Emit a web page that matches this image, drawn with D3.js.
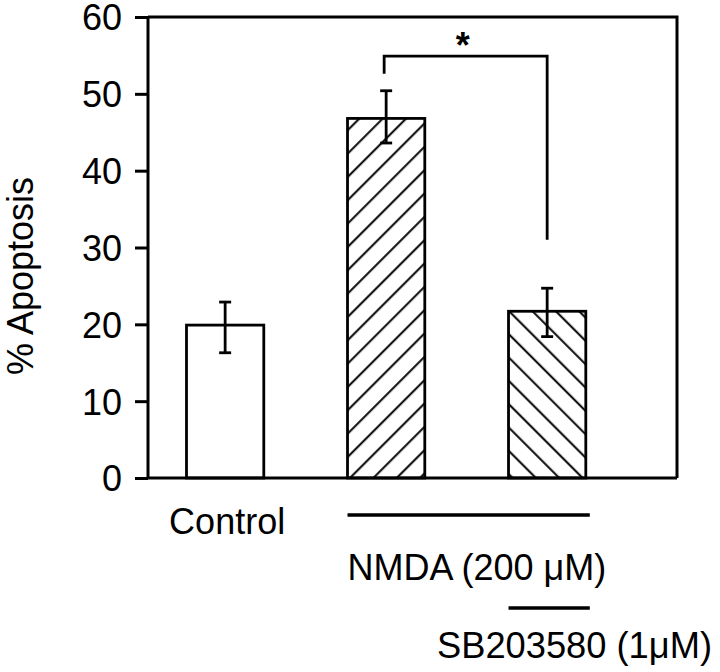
<!DOCTYPE html>
<html>
<head>
<meta charset="utf-8">
<script src="https://cdn.jsdelivr.net/npm/d3@7"></script>
<style>
  html, body { margin: 0; padding: 0; background: #fff; }
  svg text { font-family: "Liberation Sans", Arial, Helvetica, sans-serif; fill: #000; }
</style>
</head>
<body>
<svg id="chart" width="720" height="672"></svg>
<script>
// ---- data ----
const categories = ["Control", "NMDA", "NMDA+SB203580"];
const values = [19.9, 46.8, 21.7];
const errUpper = [22.9, 50.4, 24.7];
const errLower = [16.3, 43.6, 18.4];
const hatches = ["none", "forward", "back"];
const yTicks = [0, 10, 20, 30, 40, 50, 60];
const yTitle = "% Apoptosis";
const conditionLabels = ["Control", "NMDA (200 \u03BCM)", "SB203580 (1\u03BCM)"];
const sigLabel = "*";
const sigBracket = { from: "NMDA", to: "NMDA+SB203580", level: 54.9, leftEnd: 52.6, rightEnd: 31.0 };

// ---- layout ----
const svg = d3.select("#chart");
const plot = { left: 148, right: 677, top: 17, bottom: 478 };

const y = d3.scaleLinear().domain([0, 60]).range([plot.bottom, plot.top]);
const x = d3.scaleBand().domain(categories).range([186.5, 585.8]).paddingInner(0.52).paddingOuter(0);
const bw = x.bandwidth();

// patterns
const defs = svg.append("defs");
function hatchPattern(id, angle) {
  const p = defs.append("pattern")
    .attr("id", id).attr("patternUnits", "userSpaceOnUse")
    .attr("width", 16.5).attr("height", 16.5)
    .attr("patternTransform", `rotate(${angle})`);
  p.append("rect").attr("width", 16.5).attr("height", 16.5).attr("fill", "#fff");
  p.append("line").attr("x1", 8).attr("y1", -2).attr("x2", 8).attr("y2", 18.5)
    .attr("stroke", "#000").attr("stroke-width", 2);
}
hatchPattern("hatch-forward", 45);
hatchPattern("hatch-back", -45);

// bars
svg.append("g").selectAll("rect").data(categories).join("rect")
  .attr("x", d => x(d))
  .attr("y", (d, i) => y(values[i]))
  .attr("width", bw)
  .attr("height", (d, i) => y(0) - y(values[i]))
  .attr("fill", (d, i) => hatches[i] === "none" ? "#fff" : `url(#hatch-${hatches[i]})`)
  .attr("stroke", "#000").attr("stroke-width", 2.8);

// error bars
const eg = svg.append("g").attr("stroke", "#000").attr("stroke-width", 2.8).attr("fill", "none");
categories.forEach((c, i) => {
  const cx = x(c) + bw / 2;
  eg.append("line").attr("x1", cx).attr("x2", cx).attr("y1", y(errUpper[i])).attr("y2", y(errLower[i]));
  eg.append("line").attr("x1", cx - 6).attr("x2", cx + 6).attr("y1", y(errUpper[i])).attr("y2", y(errUpper[i]));
  eg.append("line").attr("x1", cx - 6).attr("x2", cx + 6).attr("y1", y(errLower[i])).attr("y2", y(errLower[i]));
});

// frame (top and right)
svg.append("path")
  .attr("d", `M${plot.left},${plot.top}H${plot.right}V${plot.bottom}`)
  .attr("fill", "none").attr("stroke", "#000").attr("stroke-width", 3);

// x baseline
svg.append("line")
  .attr("x1", plot.left).attr("x2", plot.right)
  .attr("y1", plot.bottom).attr("y2", plot.bottom)
  .attr("stroke", "#000").attr("stroke-width", 3);

// y axis
const yAxis = svg.append("g")
  .attr("transform", `translate(${plot.left},0)`)
  .call(d3.axisLeft(y).tickValues(yTicks).tickSize(13).tickPadding(13).tickFormat(d3.format("d")));
yAxis.select(".domain").attr("stroke-width", 3).attr("d", `M0,${plot.top}V${plot.bottom}`);
yAxis.selectAll(".tick line").attr("stroke-width", 3);
yAxis.selectAll(".tick text")
  .attr("font-size", 36)
  .attr("font-family", "'Liberation Sans', Arial, Helvetica, sans-serif")
  .attr("dy", "0.36em");

// y title
svg.append("text")
  .attr("transform", "translate(33,276) rotate(-90)")
  .attr("text-anchor", "middle")
  .attr("font-size", 36)
  .text(yTitle);

// significance bracket
const bx1 = x(sigBracket.from) + bw / 2 - 2;
const bx2 = x(sigBracket.to) + bw / 2;
svg.append("path")
  .attr("d", `M${bx1},${y(sigBracket.leftEnd)}V${y(sigBracket.level)}H${bx2}V${y(sigBracket.rightEnd)}`)
  .attr("fill", "none").attr("stroke", "#000").attr("stroke-width", 2.8);
svg.append("text")
  .attr("x", (bx1 + bx2) / 2 - 3).attr("y", 58)
  .attr("text-anchor", "middle")
  .attr("font-size", 36).attr("font-weight", "bold")
  .text(sigLabel);

// condition labels and lines
const xN = x("NMDA"), xS = x("NMDA+SB203580");
svg.append("text").attr("x", x("Control") + bw / 2 + 2).attr("y", 534).attr("text-anchor", "middle")
  .attr("font-size", 36).text(conditionLabels[0]);
svg.append("line")
  .attr("x1", xN).attr("x2", xS + bw + 4)
  .attr("y1", 515).attr("y2", 515)
  .attr("stroke", "#000").attr("stroke-width", 3.5);
svg.append("text").attr("x", xN).attr("y", 580)
  .attr("font-size", 36).text(conditionLabels[1]);
svg.append("line")
  .attr("x1", xS).attr("x2", xS + bw + 4)
  .attr("y1", 608).attr("y2", 608)
  .attr("stroke", "#000").attr("stroke-width", 3.5);
svg.append("text").attr("x", 437).attr("y", 658)
  .attr("font-size", 36)
  .attr("textLength", 275).attr("lengthAdjust", "spacingAndGlyphs")
  .text(conditionLabels[2]);
</script>
</body>
</html>
